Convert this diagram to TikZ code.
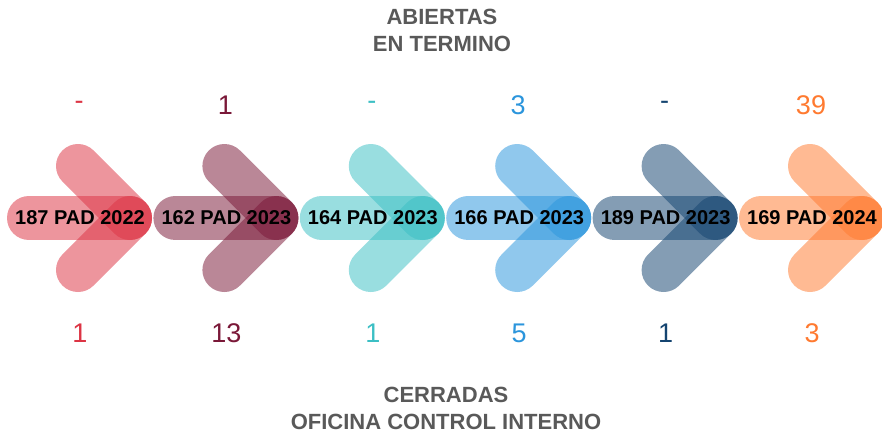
\documentclass[tikz,border=0pt]{standalone}
\usepackage{fontspec}
\setmainfont{Liberation Sans}

\definecolor{padrojo}{HTML}{DC3444}
\definecolor{padvino}{HTML}{7A1838}
\definecolor{padturquesa}{HTML}{3CBFC4}
\definecolor{padcielo}{HTML}{2B95DC}
\definecolor{padazul}{HTML}{144470}
\definecolor{padnaranja}{HTML}{FF7A30}
\definecolor{titulogris}{HTML}{595959}

\tikzset{
  trazo/.style={line width=44pt, line cap=round, draw opacity=0.52},
  etiqueta/.style={font=\fontsize{20}{24}\selectfont\bfseries, text=black},
  cifra/.style={font=\fontsize{27}{32}\selectfont},
  titulo/.style={font=\fontsize{22}{27}\selectfont\bfseries, text=titulogris, align=center}
}

\begin{document}
\begin{tikzpicture}[x=1pt,y=-1pt]
\useasboundingbox (0,0) rectangle (882,440);
%\node {\includegraphics{pad.png}};
\node[titulo] (abiertas) at (442,30) {ABIERTAS\\EN TERMINO};
\node[titulo] (cerradas) at (446,408) {CERRADAS\\OFICINA CONTROL INTERNO};

\foreach \i/\col/\pad/\arriba/\abajo in {0/padrojo/187 PAD 2022/-/1,
    1/padvino/162 PAD 2023/1/13, 2/padturquesa/164 PAD 2023/-/1,
    3/padcielo/166 PAD 2023/3/5, 4/padazul/189 PAD 2023/-/1,
    5/padnaranja/169 PAD 2024/39/3}{
\begin{scope}[xshift={146.4pt*\i}]
\coordinate (cola\i) at (29,218);
\coordinate (punta\i) at (130,218);
\coordinate (alaA\i) at (78,166);
\coordinate (alaB\i) at (78,270);
\draw[trazo, \col] (cola\i) -- (punta\i);
\draw[trazo, \col] (alaA\i) -- (punta\i);
\draw[trazo, \col] (alaB\i) -- (punta\i);
\node[etiqueta] (pad\i) at (80,218) {\pad};
\node[cifra, text=\col] (abierta\i) at (79,105) {\arriba};
\node[cifra, text=\col] (cerrada\i) at (80,333) {\abajo};
\end{scope}
}
\end{tikzpicture}
\end{document}
